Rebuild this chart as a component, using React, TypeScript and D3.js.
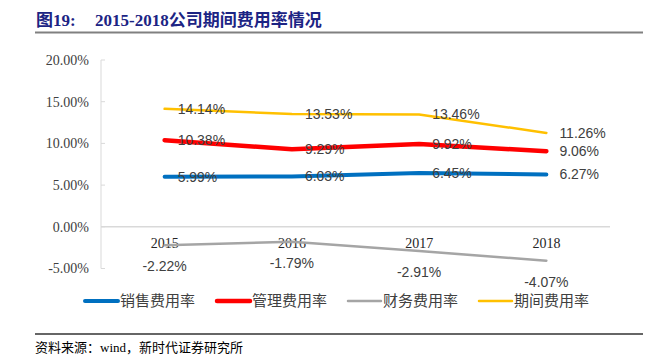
import * as d3 from "d3";

const years = ["2015", "2016", "2017", "2018"];
const seriesNames = ["销售费用率", "管理费用率", "财务费用率", "期间费用率"];
const salesRate = [5.99, 6.03, 6.45, 6.27];
const mgmtRate = [10.38, 9.29, 9.92, 9.06];
const finRate = [-2.22, -1.79, -2.91, -4.07];
const periodRate = [14.14, 13.53, 13.46, 11.26];
const yTicks = [-5, 0, 5, 10, 15, 20];

const colors = ["#0070C0", "#FF0000", "#A5A5A5", "#FFC000"];
const widths = [4, 4.5, 2.5, 2.5];

const W = 654;
const H = 360;
const plotLeft = 101;
const plotRight = 610;
const plotTop = 60;
const plotBottom = 268.5;

const sans = "'Liberation Sans', Arial, sans-serif";
const serif = "'Liberation Serif', 'Times New Roman', 'Noto Sans CJK SC', serif";
const cjk = "'Noto Sans CJK SC', sans-serif";

export default function App() {
  const values = [salesRate, mgmtRate, finRate, periodRate];
  const x = d3.scaleBand(years, [plotLeft, plotRight]);
  const cx = (yr: string) => (x(yr) as number) + x.bandwidth() / 2;
  const y = d3.scaleLinear([-5, 20], [plotBottom, plotTop]);
  const line = d3
    .line<number>()
    .x((d, i) => cx(years[i]))
    .y((d) => y(d));

  const legendX = [85, 217, 348, 479];
  const legendY = 301;

  return (
    <svg
      width={W}
      height={H}
      style={{ position: "absolute", left: 0, top: 0, background: "#fff" }}
    >
      {/* title */}
      <text
        x={36}
        y={26}
        fontFamily={serif}
        fontWeight="bold"
        fontSize={17}
        fill="#1c2484"
      >
        图19:
      </text>
      <text
        x={95}
        y={26}
        fontFamily={serif}
        fontWeight="bold"
        fontSize={17}
        fill="#1c2484"
      >
        2015-2018公司期间费用率情况
      </text>
      <line x1={35} x2={643} y1={32.5} y2={32.5} stroke="#808080" strokeWidth={2} />

      {/* y axis */}
      <line x1={plotLeft} x2={plotLeft} y1={y(20)} y2={y(-5)} stroke="#D9D9D9" strokeWidth={1} />
      {yTicks.map((t) => (
        <g key={t}>
          <line x1={plotLeft} x2={plotLeft + 4} y1={y(t)} y2={y(t)} stroke="#D9D9D9" />
          <text
            x={89}
            y={y(t)}
            dy="0.35em"
            textAnchor="end"
            fontFamily={serif}
            fontSize={14}
            fill="#404040"
          >
            {t.toFixed(2) + "%"}
          </text>
        </g>
      ))}

      {/* zero line */}
      <line x1={plotLeft} x2={plotRight} y1={y(0)} y2={y(0)} stroke="#D9D9D9" strokeWidth={1.5} />

      {/* category labels */}
      {years.map((yr) => (
        <text
          key={yr}
          x={cx(yr)}
          y={248}
          textAnchor="middle"
          fontFamily={serif}
          fontSize={14}
          fill="#262626"
        >
          {yr}
        </text>
      ))}

      {/* lines */}
      {values.map((vals, si) => (
        <path
          key={si}
          d={line(vals) || ""}
          fill="none"
          stroke={colors[si]}
          strokeWidth={widths[si]}
          strokeLinecap="round"
          strokeLinejoin="round"
        />
      ))}

      {/* data labels */}
      {values.map((vals, si) =>
        vals.map((v, i) =>
          si === 2 ? (
            <text
              key={si + "-" + i}
              x={cx(years[i])}
              y={y(v) + 21}
              dy="0.35em"
              textAnchor="middle"
              fontFamily={sans}
              fontSize={14}
              fill="#404040"
            >
              {v.toFixed(2) + "%"}
            </text>
          ) : (
            <text
              key={si + "-" + i}
              x={cx(years[i]) + 13}
              y={y(v)}
              dy="0.35em"
              fontFamily={sans}
              fontSize={14}
              fill="#404040"
            >
              {v.toFixed(2) + "%"}
            </text>
          )
        )
      )}

      {/* legend */}
      {seriesNames.map((name, i) => (
        <g key={name}>
          <line
            x1={legendX[i]}
            x2={legendX[i] + 33}
            y1={legendY}
            y2={legendY}
            stroke={colors[i]}
            strokeWidth={widths[i]}
            strokeLinecap="round"
          />
          <text
            x={legendX[i] + 35}
            y={legendY}
            dy="0.35em"
            fontFamily={cjk}
            fontSize={15}
            fill="#404040"
          >
            {name}
          </text>
        </g>
      ))}

      {/* source */}
      <line x1={35} x2={643} y1={334} y2={334} stroke="#333" strokeWidth={1.5} />
      <text x={35} y={352} fontFamily={serif} fontSize={13} fill="#000">
        资料来源：wind，新时代证券研究所
      </text>
    </svg>
  );
}
